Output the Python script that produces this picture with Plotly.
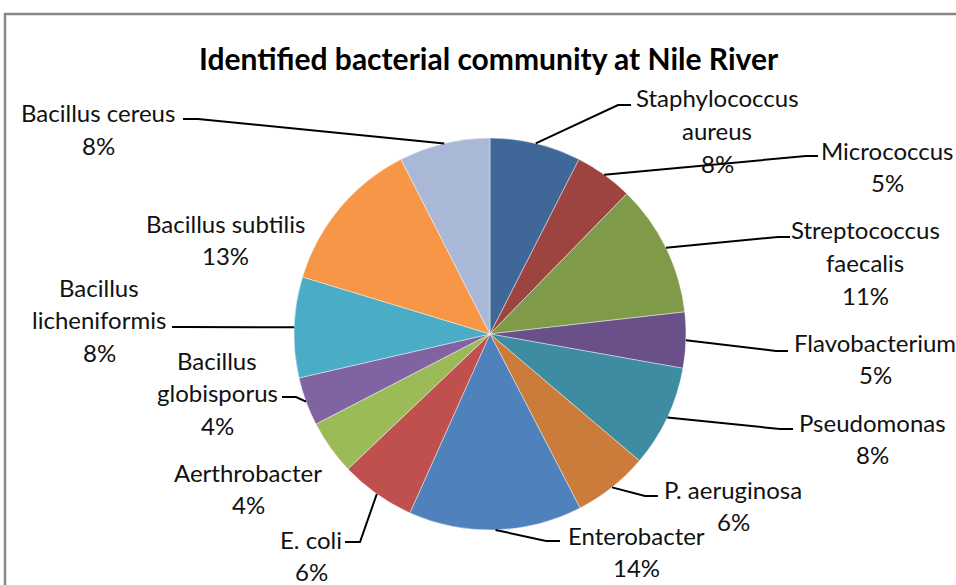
import math
import plotly.graph_objects as go

# ---- data ----
categories = ["Staphylococcus aureus", "Micrococcus", "Streptococcus faecalis",
              "Flavobacterium", "Pseudomonas", "P. aeruginosa", "Enterobacter",
              "E. coli", "Aerthrobacter", "Bacillus globisporus",
              "Bacillus licheniformis", "Bacillus subtilis", "Bacillus cereus"]
values = [7.5, 4.8, 10.9, 4.6, 8.4, 6.2, 14.3, 6.2, 4.5, 4.0, 8.3, 12.8, 7.5]
percent_labels = ["8%", "5%", "11%", "5%", "8%", "6%", "14%", "6%", "4%", "4%", "8%", "13%", "8%"]
label_lines = [["Staphylococcus", "aureus"], ["Micrococcus"], ["Streptococcus", "faecalis"],
               ["Flavobacterium"], ["Pseudomonas"], ["P. aeruginosa"], ["Enterobacter"],
               ["E. coli"], ["Aerthrobacter"], ["Bacillus", "globisporus"],
               ["Bacillus", "licheniformis"], ["Bacillus subtilis"], ["Bacillus cereus"]]
colors = ["#3F6798", "#9D4340", "#7F9B4A", "#6A5088", "#3D8CA2", "#CC7C3A",
          "#4F81BD", "#C0504D", "#9BBB59", "#8064A2", "#4BACC6", "#F79646", "#A9B8D7"]

# ---- layout (pixels) ----
W, H = 956, 585
CX, CY, R = 490, 334, 196
# label block: centre x, centre y of first line
label_pos = [(717, 98), (887, 150), (865, 230), (875, 342), (872, 422), (733, 489),
             (636, 535), (311, 539), (248, 472), (217, 360), (99, 287), (225, 223), (98, 113)]
# leader: (end_x, end_y, knee_x) or None
leaders = [(631, 105, 618), (818, 156, 806), (790, 237, 778), (788, 351, 776),
           (793, 429, 780), (658, 496, 645), (560, 541, 546), (345, 542, 360),
           None, (282, 397, 296), (172, 327, 184), None, (183, 119, 198)]

LINE_H = 32.5
FONT = "Lato"
FS = 24

def px(x):
    return x / W

def py(y):
    return 1 - y / H

fig = go.Figure(go.Pie(
    labels=categories, values=values, sort=False, direction="clockwise",
    rotation=0, textinfo="none", hoverinfo="label+percent",
    marker=dict(colors=colors, line=dict(color="rgba(255,255,255,0.6)", width=0.7)),
    domain=dict(x=[px(CX - R), px(CX + R)], y=[py(CY + R), py(CY - R)]),
    showlegend=False,
))

annotations = []
shapes = []
total = sum(values)
cum = 0
for i, v in enumerate(values):
    mid = (cum + v / 2) / total * 2 * math.pi
    cum += v
    lx, ly = label_pos[i]
    lines = label_lines[i] + [percent_labels[i]]
    for k, t in enumerate(lines):
        annotations.append(dict(
            text=t, x=px(lx), y=py(ly + k * LINE_H), xref="paper", yref="paper",
            xanchor="center", yanchor="middle", showarrow=False,
            font=dict(family=FONT, size=FS, color="#111111")))
    ld = leaders[i]
    if ld is not None:
        ex = CX + R * math.sin(mid)
        ey = CY - R * math.cos(mid)
        endx, endy, kx = ld
        path = f"M {px(ex)} {py(ey)} L {px(kx)} {py(endy)} L {px(endx)} {py(endy)}"
        shapes.append(dict(type="path", path=path, xref="paper", yref="paper",
                           line=dict(color="#000000", width=2)))

# title
annotations.append(dict(
    text="<b>Identified bacterial community at Nile River</b>", x=px(489), y=py(58),
    xref="paper", yref="paper", xanchor="center", yanchor="middle", showarrow=False,
    font=dict(family=FONT, size=30, color="#000000")))

# chart border
shapes.append(dict(type="rect", x0=px(5), y0=py(600), x1=px(970), y1=py(14),
                   xref="paper", yref="paper", line=dict(color="#878787", width=2.5)))

fig.update_layout(
    width=W, height=H, margin=dict(l=0, r=0, t=0, b=0),
    paper_bgcolor="white", plot_bgcolor="white",
    annotations=annotations, shapes=shapes,
)

fig.write_html("out.html")
